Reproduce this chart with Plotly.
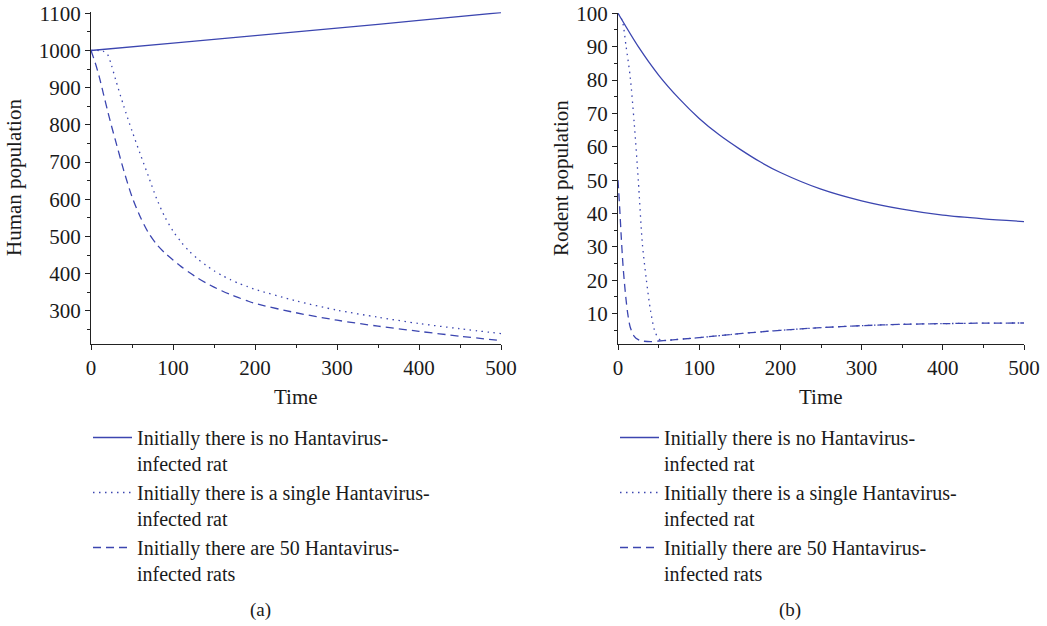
import plotly.graph_objects as go

# ---- data ----
t_h_none = [0, 100, 200, 300, 400, 500]
h_none = [1000, 1020, 1040, 1060, 1081, 1102]

t_h_single = [0, 10, 15, 20, 25, 30, 40, 50, 60, 70, 80, 90, 100, 110, 120, 130, 140, 150, 160, 170, 180, 190, 200,
              250, 300, 350, 400, 450, 500]
h_single = [1000, 1000, 998, 990, 960, 922, 850, 784, 722, 662, 602, 553, 515, 485, 460, 440, 423, 408, 395, 384, 374, 366, 358,
            327, 302, 283, 266, 252, 239]

t_h_fifty = [0, 5, 10, 15, 20, 25, 30, 40, 50, 60, 70, 80, 90, 100, 110, 120, 130, 140, 150, 160, 170, 180, 190, 200,
             250, 300, 350, 400, 450, 500]
h_fifty = [1000, 968, 930, 885, 840, 797, 757, 677, 607, 553, 510, 479, 456, 437, 419, 403, 388.5, 375.5, 364, 353.5, 344, 335.5, 327.5, 320,
           295, 275, 259, 245, 232, 220]

t_r_none = [0, 25, 50, 75, 100, 125, 150, 175, 200, 250, 300, 350, 400, 450, 500]
r_none = [100, 90, 81.5, 74.5, 68.5, 63.5, 59.3, 55.5, 52.3, 47.3, 43.8, 41.3, 39.5, 38.4, 37.6]

t_r_single = [0, 5, 10, 15, 20, 25, 30, 35, 40, 45, 50, 55, 60, 80, 100, 150, 200, 250, 300, 350, 400, 450, 500]
r_single = [100, 98, 90, 81, 67, 50, 31, 20, 11, 5, 2.5, 1.9, 2.0, 2.4, 2.8, 4.0, 5.0, 5.8, 6.4, 6.8, 7.0, 7.15, 7.2]

t_r_fifty = [0, 2, 4, 6, 8, 10, 12, 15, 20, 25, 30, 40, 50, 60, 80, 100, 150, 200, 250, 300, 350, 400, 450, 500]
r_fifty = [50, 42, 33, 25, 19, 14, 10, 6, 3.2, 2.2, 1.8, 1.6, 1.8, 2.0, 2.4, 2.8, 4.0, 5.0, 5.8, 6.4, 6.8, 7.0, 7.15, 7.2]

names = [
    "Initially there is no Hantavirus-<br>infected rat",
    "Initially there is a single Hantavirus-<br>infected rat",
    "Initially there are 50 Hantavirus-<br>infected rats",
]
x_ticks = [0, 100, 200, 300, 400, 500]

# ---- style ----
W, H = 1047, 626


def fx(px):
    return px / W


def fy(py):
    return 1 - py / H


COLOR = "#3c46b0"
FONT = "Liberation Serif"
TXT = "#1a1a1a"
FS = 21
LFS = 20
dashes = ["solid", "1.5px,4.5px", "8px,5px"]

fig = go.Figure()

left = [(t_h_none, h_none), (t_h_single, h_single), (t_h_fifty, h_fifty)]
right = [(t_r_none, r_none), (t_r_single, r_single), (t_r_fifty, r_fifty)]

for i, (tx, vy) in enumerate(left):
    fig.add_trace(go.Scatter(x=tx, y=vy, mode="lines", name=names[i],
                             line=dict(color=COLOR, width=1.3, dash=dashes[i], shape="spline", smoothing=0.8),
                             xaxis="x", yaxis="y", legend="legend", legendgroup="a%d" % i))
for i, (tx, vy) in enumerate(right):
    fig.add_trace(go.Scatter(x=tx, y=vy, mode="lines", name=names[i],
                             line=dict(color=COLOR, width=1.3, dash=dashes[i], shape="spline", smoothing=0.8),
                             xaxis="x2", yaxis="y2", legend="legend2", legendgroup="b%d" % i))

axis_common = dict(showline=True, linecolor="#222", linewidth=1.3, showgrid=False, zeroline=False,
                   ticks="outside", ticklen=5, tickwidth=1.2, tickcolor="#222", automargin=False,
                   ticklabeloverflow="allow",
                   tickfont=dict(family=FONT, size=FS, color=TXT), mirror=False)
minor_x = dict(dtick=50, tick0=0, ticks="outside", ticklen=3, tickcolor="#222", tickwidth=1)

fig.update_layout(
    width=W, height=H,
    margin=dict(l=0, r=0, t=0, b=0, autoexpand=False),
    paper_bgcolor="white", plot_bgcolor="white",
    font=dict(family=FONT, color=TXT),
    xaxis=dict(domain=[fx(91), fx(501)], range=[0, 500], anchor="y", tickvals=x_ticks,
               minor=minor_x, **axis_common),
    yaxis=dict(domain=[fy(344), fy(12.2)], range=[211, 1103], anchor="x", dtick=100, tick0=0,
               minor=dict(dtick=50, tick0=0, ticks="outside", ticklen=3, tickcolor="#222", tickwidth=1),
               **axis_common),
    xaxis2=dict(domain=[fx(618), fx(1024)], range=[0, 500], anchor="y2", tickvals=x_ticks,
                minor=minor_x, **axis_common),
    yaxis2=dict(domain=[fy(344), fy(13.3)], range=[0.9, 100], anchor="x2", dtick=10, tick0=0,
                minor=dict(dtick=5, tick0=0, ticks="outside", ticklen=3, tickcolor="#222", tickwidth=1),
                **axis_common),
    legend=dict(x=fx(88), y=fy(418), xanchor="left", yanchor="top", bgcolor="rgba(0,0,0,0)",
                font=dict(family=FONT, size=LFS, color=TXT), valign="top", tracegroupgap=0,
                traceorder="normal", itemwidth=39),
    legend2=dict(x=fx(615), y=fy(418), xanchor="left", yanchor="top", bgcolor="rgba(0,0,0,0)",
                 font=dict(family=FONT, size=LFS, color=TXT), valign="top", tracegroupgap=0,
                 traceorder="normal", itemwidth=39),
    showlegend=True,
)

ann = []
for xc in (296, 821):
    ann.append(dict(text="Time", x=fx(xc), y=fy(397), xref="paper", yref="paper", showarrow=False,
                    font=dict(family=FONT, size=FS, color=TXT), xanchor="center", yanchor="middle"))
ann.append(dict(text="Human population", x=fx(14), y=fy(178), xref="paper", yref="paper", showarrow=False,
                textangle=-90, font=dict(family=FONT, size=FS, color=TXT), xanchor="center", yanchor="middle"))
ann.append(dict(text="Rodent population", x=fx(561), y=fy(178), xref="paper", yref="paper", showarrow=False,
                textangle=-90, font=dict(family=FONT, size=FS, color=TXT), xanchor="center", yanchor="middle"))
ann.append(dict(text="(a)", x=fx(260), y=fy(610), xref="paper", yref="paper", showarrow=False,
                font=dict(family=FONT, size=19, color=TXT), xanchor="center", yanchor="middle"))
ann.append(dict(text="(b)", x=fx(790), y=fy(610), xref="paper", yref="paper", showarrow=False,
                font=dict(family=FONT, size=19, color=TXT), xanchor="center", yanchor="middle"))
fig.update_layout(annotations=ann)

fig.write_html("out.html", config={"displayModeBar": False},
               post_script="document.body.style.margin='0px';")
